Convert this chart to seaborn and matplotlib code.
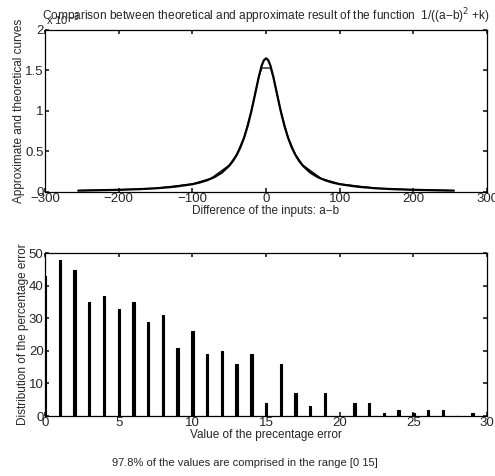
import matplotlib as mpl
import matplotlib.pyplot as plt
import numpy as np
import seaborn as sns

mpl.use('Agg')

# theoretical curve 1/((a-b)^2+k), values read in units of 1e-3
theory_x = [-255, -225, -200, -175, -150, -125, -100, -90, -80, -70, -60, -50, -45, -40,
            -35, -30, -25, -20, -15, -10, -6, -3, 0, 3, 6, 10, 15, 20, 25, 30, 35, 40,
            45, 50, 60, 70, 80, 90, 100, 125, 150, 175, 200, 225, 255]
theory_y = [0.015, 0.020, 0.025, 0.032, 0.043, 0.062, 0.094, 0.115, 0.143, 0.182, 0.238,
            0.322, 0.380, 0.453, 0.546, 0.664, 0.812, 0.994, 1.203, 1.416, 1.558, 1.626,
            1.650, 1.626, 1.558, 1.416, 1.203, 0.994, 0.812, 0.664, 0.546, 0.453, 0.380,
            0.322, 0.238, 0.182, 0.143, 0.115, 0.094, 0.062, 0.043, 0.032, 0.025, 0.020,
            0.015]

# approximate result, units of 1e-3 (flat top near the peak)
approx_x = [-250, -200, -150, -100, -75, -50, -40, -30, -20, -10, -6, 6, 10, 20, 30, 40,
            50, 75, 100, 150, 200, 250]
approx_y = [0.016, 0.025, 0.044, 0.098, 0.165, 0.33, 0.46, 0.67, 1.0, 1.41, 1.53, 1.53,
            1.41, 1.0, 0.67, 0.46, 0.33, 0.165, 0.098, 0.044, 0.025, 0.016]

# histogram of the percentage error
err_values = list(range(30))
err_counts = [43, 48, 45, 35, 37, 33, 35, 29, 31, 21, 26, 19, 20, 16, 19,
              4, 16, 7, 3, 7, 0, 4, 4, 1, 2, 1, 2, 2, 0, 1]

sns.set_theme(style='ticks', rc={'xtick.direction': 'in', 'ytick.direction': 'in',
                                 'xtick.top': True, 'ytick.right': True,
                                 'axes.linewidth': 0.9, 'xtick.major.size': 3,
                                 'ytick.major.size': 3, 'axes.edgecolor': 'black'})
plt.rcParams['font.family'] = ['Liberation Sans', 'DejaVu Sans']

fig = plt.figure(figsize=(4.95, 4.76), dpi=100)

# top plot
ax1 = fig.add_axes([0.091, 0.597, 0.893, 0.340])
sns.lineplot(x=approx_x, y=approx_y, ax=ax1, color='black', linewidth=0.9, sort=False)
sns.lineplot(x=theory_x, y=theory_y, ax=ax1, color='black', linewidth=1.6)
ax1.set_xlim(-300, 300)
ax1.set_ylim(0, 2)
ax1.set_xticks([-300, -200, -100, 0, 100, 200, 300])
ax1.set_yticks([0, 0.5, 1, 1.5, 2])
ax1.set_yticklabels(['0', '0.5', '1', '1.5', '2'])
ax1.tick_params(labelsize=9.5, pad=1)
ax1.set_xlabel('Difference of the inputs: a\u2212b', fontsize=8.5, labelpad=0)
ax1.set_ylabel('Approximate and theoretical curves', fontsize=8.5, labelpad=0)
ax1.set_title('Comparison between theoretical and approximate result of the function  '
              '1/((a\u2212b)$^2$ +k)', fontsize=8.6, pad=7)
fig.text(0.093, 0.948, 'x 10$^{-3}$', fontsize=8)

# bottom plot
ax2 = fig.add_axes([0.091, 0.126, 0.893, 0.342])
sns.barplot(x=err_values, y=err_counts, ax=ax2, color='black', width=0.16,
            native_scale=True, errorbar=None, saturation=1,
            edgecolor='black', linewidth=0.8)
ax2.set_xlim(0, 30)
ax2.set_ylim(0, 50)
ax2.set_xticks([0, 5, 10, 15, 20, 25, 30])
ax2.set_yticks([0, 10, 20, 30, 40, 50])
ax2.tick_params(labelsize=9.5, pad=1)
ax2.set_xlabel('Value of the precentage error', fontsize=8.5, labelpad=0)
ax2.set_ylabel('Distribution of the percentage error', fontsize=8.5, labelpad=0)

fig.text(0.495, 0.022, '97.8% of the values are comprised in the range [0 15]',
         fontsize=8, ha='center')

plt.savefig('out.png', dpi=100)
plt.close()
